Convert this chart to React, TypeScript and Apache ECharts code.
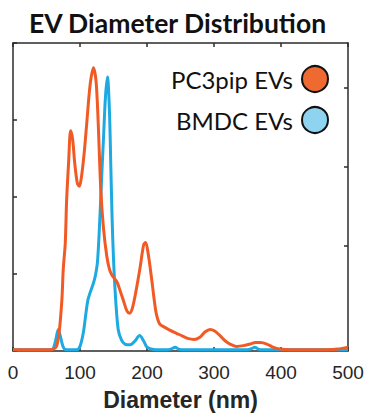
import React, { useEffect, useRef } from "react";
import * as echarts from "echarts";

const xTicks = [0, 100, 200, 300, 400, 500];

const pc3X = [0, 50, 60, 65, 69, 73, 75, 78, 80, 83, 86, 89, 92, 96, 99, 102, 106, 110, 115, 120, 124, 127, 131, 135, 140, 144, 148, 155, 160, 165, 170, 174, 178, 183, 190, 195, 198, 202, 207, 211, 214, 219, 226, 234, 244, 254, 262, 270, 279, 287, 294, 301, 309, 317, 324, 334, 344, 354, 362, 369, 379, 388, 398, 413, 470, 485, 500];
const pc3Y = [0.015, 0.015, 0.025, 0.06, 0.25, 0.67, 1.06, 1.4, 1.95, 2.45, 2.86, 2.75, 2.45, 2.18, 2.14, 2.25, 2.55, 2.95, 3.45, 3.68, 3.5, 3.0, 2.1, 1.6, 1.23, 1.06, 0.98, 0.9, 0.78, 0.65, 0.52, 0.49, 0.55, 0.75, 1.1, 1.38, 1.41, 1.25, 0.93, 0.65, 0.48, 0.35, 0.31, 0.27, 0.23, 0.19, 0.16, 0.15, 0.18, 0.25, 0.28, 0.26, 0.2, 0.13, 0.09, 0.06, 0.07, 0.09, 0.11, 0.11, 0.09, 0.05, 0.025, 0.015, 0.015, 0.025, 0.05];

const bmdcX = [0, 55, 60, 64, 67.5, 71, 75, 80, 95, 100, 105, 109, 112, 116, 120, 123, 126, 129, 132, 135, 138, 141, 144, 146, 148, 150, 153, 157, 162, 167, 175, 182, 189, 195, 200, 210, 230, 237, 242, 247, 255, 350, 356, 361, 366, 372, 500];
const bmdcY = [0.015, 0.015, 0.03, 0.15, 0.28, 0.18, 0.05, 0.015, 0.015, 0.06, 0.24, 0.5, 0.67, 0.78, 0.88, 0.98, 1.15, 1.6, 2.2, 2.75, 3.3, 3.56, 3.1, 2.4, 1.7, 1.2, 0.7, 0.28, 0.14, 0.09, 0.08, 0.13, 0.2, 0.13, 0.05, 0.02, 0.015, 0.03, 0.05, 0.025, 0.015, 0.015, 0.03, 0.05, 0.025, 0.015, 0.015];

const rightTicks = [1.37, 2.39, 3.42];

const ORANGE = "#F15A24";
const BLUE = "#1DA9E1";
const AXIS = "#2b2b2b";

export default function App() {
  const ref = useRef<HTMLDivElement>(null);
  useEffect(() => {
    if (!ref.current) return;
    const chart = echarts.init(ref.current, undefined, { renderer: "svg" });
    const axisLine = { show: true, onZero: false, lineStyle: { color: AXIS, width: 1.5 } };
    const tick = { show: true, inside: true, length: 4, lineStyle: { color: AXIS, width: 1.5 } };
    chart.setOption({
      animation: false,
      backgroundColor: "#ffffff",
      title: {
        text: "EV Diameter Distribution",
        left: 24,
        top: 4,
        textStyle: { fontFamily: "Lato", fontWeight: "bold", fontSize: 26.5, color: "#111" },
      },
      legend: {
        orient: "vertical",
        right: 34,
        top: 60,
        align: "right",
        icon: "circle",
        itemWidth: 26,
        itemHeight: 26,
        itemGap: 13,
        textStyle: { fontFamily: "Lato", fontSize: 24, color: "#111", padding: [0, 4, 0, 0] },
        data: [
          { name: "PC3pip EVs", itemStyle: { color: "#EE6A30", borderColor: "#111", borderWidth: 2 } },
          { name: "BMDC EVs", itemStyle: { color: "#8ED3EF", borderColor: "#111", borderWidth: 2 } },
        ],
      },
      grid: { left: 13, top: 43, width: 335, height: 309 },
      xAxis: [
        {
          type: "value",
          position: "bottom",
          min: xTicks[0],
          max: xTicks[xTicks.length - 1],
          interval: 100,
          axisLine,
          axisTick: tick,
          axisLabel: {
            fontFamily: "Liberation Sans",
            fontSize: 19,
            color: "#262626",
            margin: 12,
            customValues: xTicks,
          },
          splitLine: { show: false },
          name: "Diameter (nm)",
          nameLocation: "middle",
          nameGap: 37,
          nameTextStyle: { fontFamily: "Liberation Sans", fontWeight: "bold", fontSize: 23, color: "#262626" },
        },
        {
          type: "value",
          position: "top",
          min: 0,
          max: 500,
          interval: 100,
          axisLine,
          axisTick: tick,
          axisLabel: { show: false },
          splitLine: { show: false },
        },
      ],
      yAxis: [
        {
          type: "value",
          position: "left",
          min: 0,
          max: 4,
          interval: 1,
          axisLine,
          axisTick: tick,
          axisLabel: { show: false },
          splitLine: { show: false },
        },
        {
          type: "value",
          position: "right",
          min: 0,
          max: 4,
          axisLine,
          axisTick: { ...tick, customValues: rightTicks },
          axisLabel: { show: false },
          splitLine: { show: false },
        },
      ],
      series: [
        {
          name: "BMDC EVs",
          type: "line",
          xAxisIndex: 0,
          yAxisIndex: 0,
          data: bmdcX.map((x, i) => [x, bmdcY[i]]),
          smooth: 0.3,
          symbol: "none",
          lineStyle: { color: BLUE, width: 3 },
          itemStyle: { color: BLUE },
          z: 3,
        },
        {
          name: "PC3pip EVs",
          type: "line",
          xAxisIndex: 0,
          yAxisIndex: 0,
          data: pc3X.map((x, i) => [x, pc3Y[i]]),
          smooth: 0.3,
          symbol: "none",
          lineStyle: { color: ORANGE, width: 3 },
          itemStyle: { color: ORANGE },
          z: 4,
        },
      ],
    });
    return () => chart.dispose();
  }, []);
  return <div ref={ref} style={{ width: 368, height: 416, position: "absolute", left: 0, top: 0 }} />;
}
